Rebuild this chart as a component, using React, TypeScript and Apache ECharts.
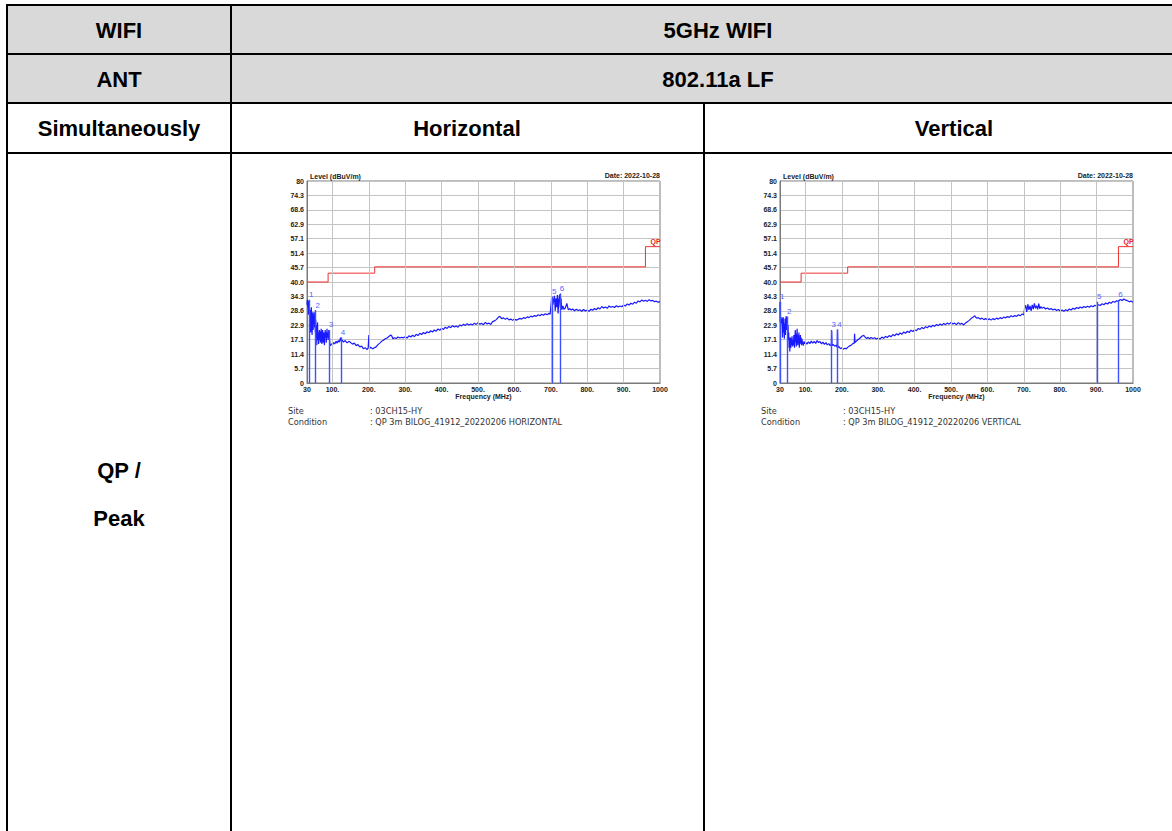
import React, { useEffect, useRef } from "react";
import * as echarts from "echarts";

// ---------- data ----------
const xTickValues = [30, 100, 200, 300, 400, 500, 600, 700, 800, 900, 1000];
const xGridValues = [100, 200, 300, 400, 500, 600, 700, 800, 900];
const yTickLabels = ["0", "5.7", "11.4", "17.1", "22.9", "28.6", "34.3", "40.0", "45.7", "51.4", "57.1", "62.9", "68.6", "74.3", "80"];

// QP limit (FCC class B, 3 m)
const qpLimit: [number, number][] = [
  [30, 40], [88, 40], [88, 43.5], [216, 43.5], [216, 46], [960, 46], [960, 54], [1000, 54],
];

const horizontalTrace: [number, number][] = [
  [30, 31], [31, 33], [32, 30], [33, 32.5], [34, 27], [35, 31], [36, 33], [37, 28], [38, 24], [39, 29],
  [40, 20], [41, 26], [42, 30], [43, 22], [44, 19], [45, 25], [46, 28], [47, 21], [48, 27], [49, 24],
  [50, 28], [51, 22], [52, 26], [53, 20], [54, 25], [55, 18], [56, 23], [57, 15], [58, 21], [59, 24],
  [60, 17], [61, 20], [62, 15.5], [63, 18], [64, 21], [65, 17], [66, 20.5], [67, 16], [68, 19], [69, 21.5],
  [70, 17], [71, 15.5], [72, 19], [73, 21], [74, 18], [75, 16], [76, 20], [77, 17], [78, 15], [79, 19],
  [80, 21], [81, 18], [82, 20], [83, 16], [84, 19], [85, 21.5], [86, 18], [87, 20], [88, 17], [89, 19.5],
  [90, 21], [91, 20], [92, 17], [93, 15], [95, 14.8], [97, 15.5], [100, 15.2], [103, 16], [106, 15.5],
  [110, 16.5], [113, 15.8], [116, 16.8], [119, 16.2], [122, 18], [124, 16.5], [127, 17], [130, 16.2],
  [135, 16.8], [140, 15.9], [145, 16.5], [150, 16], [155, 15.4], [160, 15.8], [165, 14.8], [170, 15.2],
  [175, 14.3], [180, 14.6], [185, 13.6], [190, 14], [195, 13.2], [198, 13.8], [200, 19], [202, 13.6],
  [205, 14.2], [210, 13.5], [215, 14], [220, 14.3], [225, 15.2], [230, 15.8], [235, 16.5], [240, 16.9],
  [245, 17.5], [250, 17.8], [255, 18.4], [260, 19], [263, 18.6], [266, 17.5], [270, 17.9], [275, 17.6],
  [280, 18.2], [285, 17.8], [290, 18.1], [295, 17.9],
  [300, 18.3], [305, 17.8], [310, 18.7], [315, 18.2], [320, 18.9], [325, 18.4], [330, 19.3], [335, 18.8],
  [340, 19.7], [345, 19.2], [350, 20.0], [355, 19.5], [360, 20.3], [365, 19.9], [370, 20.7], [375, 20.2],
  [380, 21.0], [385, 20.5], [390, 21.4], [395, 20.9], [400, 21.7], [405, 21.2], [410, 22.1], [415, 21.6],
  [420, 22.4], [425, 21.9], [430, 22.7], [435, 22.2], [440, 22.6], [445, 22.1], [450, 23.0], [455, 22.6],
  [460, 23.3], [465, 22.8], [470, 23.5], [475, 23.0], [480, 23.4], [485, 23.0], [490, 23.7], [495, 23.2],
  [500, 23.9], [505, 23.3], [510, 23.6], [515, 23.1], [520, 24.0], [525, 23.4], [530, 23.7], [535, 23.2],
  [540, 24.3], [545, 24.6], [550, 25.1], [555, 25.9], [560, 26.4], [565, 25.5], [570, 25.8], [575, 25.2],
  [580, 25.7], [585, 25.0], [590, 25.3], [595, 24.8], [600, 25.3], [605, 24.9], [610, 25.2], [615, 25.6],
  [620, 25.3], [625, 25.9], [630, 25.6], [635, 26.2], [640, 25.9], [645, 26.5], [650, 26.2], [655, 26.7],
  [660, 26.4], [665, 27.0], [670, 26.6], [675, 27.2], [680, 26.8], [685, 27.4], [690, 27.0], [695, 27.6],
  [698, 27.2], [700, 30], [702, 33.5], [704, 34], [706, 31], [708, 33], [710, 34.5], [712, 28.5],
  [714, 33.5], [716, 30], [718, 34.8], [720, 27.5], [722, 33], [724, 35], [726, 30], [728, 33.5],
  [730, 29], [733, 30.5], [736, 29.2], [740, 29.8], [744, 31.5], [748, 29],
  [752, 29.4], [756, 28.9], [760, 29.3], [765, 28.6], [770, 29.2], [775, 28.7], [780, 29.0], [785, 28.4],
  [790, 29.1], [795, 28.5], [800, 28.9], [805, 28.4], [810, 29.2], [815, 28.8], [820, 29.5], [825, 29.0],
  [830, 29.8], [835, 29.3], [840, 30.3], [845, 29.7], [850, 30.1], [855, 29.6], [860, 30.5], [865, 30.0],
  [870, 30.3], [875, 29.9], [880, 30.6], [885, 30.1], [890, 30.5], [895, 30.2], [900, 30.9], [905, 30.5],
  [910, 31.3], [915, 30.9], [920, 31.6], [925, 31.2], [930, 32.0], [935, 31.6], [940, 32.5], [945, 32.1],
  [950, 32.9], [955, 32.4], [960, 32.8], [965, 32.3], [970, 33.0], [975, 32.5], [980, 32.7], [985, 32.2],
  [990, 32.4], [995, 32.0], [1000, 32.2],
];

const verticalTrace: [number, number][] = [
  [30, 32], [30.5, 24], [31, 25], [32, 23.5], [33, 25], [34, 24], [35, 26], [36, 22], [37, 18], [38, 24],
  [39, 26], [40, 20], [41, 23.5], [42, 17.5], [43, 22], [44, 25.5], [45, 19], [46, 24], [47, 26.5], [48, 21],
  [49, 25], [50, 26], [51, 20], [52, 23], [53, 17], [54, 20], [55, 14], [56, 18], [57, 12.5], [58, 16],
  [59, 18], [60, 14], [61, 17.5], [62, 15], [63, 18.5], [64, 16], [65, 14.5], [66, 17], [67, 15], [68, 19],
  [69, 16], [70, 14], [71, 18], [72, 21], [73, 16], [74, 19.5], [75, 14.5], [76, 18], [77, 21.5], [78, 17],
  [79, 15], [80, 19], [81, 16], [82, 20], [83, 14], [84, 17], [85, 15.5], [86, 19], [87, 16], [88, 18],
  [89, 15], [90, 17.5], [92, 16], [94, 14.8], [96, 16.5], [98, 15.5], [100, 16.2], [104, 15.4], [108, 16.3],
  [112, 15.6], [116, 16.6], [120, 15.8], [124, 16.5], [128, 15.7], [132, 16.8], [136, 16.0], [140, 16.4],
  [144, 15.5], [148, 16.2], [152, 15.3], [156, 16.0], [160, 15.1], [164, 15.6], [168, 14.8], [171, 15.2],
  [172, 20.5], [173, 14.8], [176, 15.3], [180, 14.6], [184, 15.0], [187, 14.2], [188, 21], [189, 14],
  [192, 14.4], [196, 13.6], [200, 13.9], [204, 13.4], [208, 13.8], [212, 13.5], [216, 14.1], [220, 14.6],
  [225, 14.9], [230, 15.6], [234, 15.8], [235, 19.5], [236, 16], [240, 16.6], [245, 17.2], [250, 17.8],
  [255, 18.5], [260, 18.9], [264, 18.2], [268, 17.6], [272, 18.1], [276, 17.5], [280, 18.0], [285, 17.6],
  [290, 17.9], [295, 17.4],
  [300, 17.8], [305, 17.4], [310, 18.2], [315, 17.7], [320, 18.5], [325, 18.0], [330, 18.8], [335, 18.3],
  [340, 19.2], [345, 18.7], [350, 19.5], [355, 19.0], [360, 19.8], [365, 19.3], [370, 20.2], [375, 19.7],
  [380, 20.5], [385, 20.0], [390, 20.9], [395, 20.4], [400, 21.1], [405, 20.7], [410, 21.6], [415, 21.2],
  [420, 22.0], [425, 21.5], [430, 22.3], [435, 21.9], [440, 22.6], [445, 22.2], [450, 22.9], [455, 22.4],
  [460, 23.2], [465, 22.7], [470, 23.4], [475, 22.9], [480, 23.6], [485, 23.1], [490, 23.8], [495, 23.3],
  [500, 24.0], [505, 23.4], [510, 23.7], [515, 23.1], [520, 23.9], [525, 23.3], [530, 23.6], [535, 23.0],
  [540, 23.8], [545, 24.3], [550, 24.8], [555, 25.5], [560, 26.0], [565, 26.6], [570, 25.7], [575, 25.9],
  [580, 25.3], [585, 25.7], [590, 25.1], [595, 25.5], [600, 25.0], [605, 25.4], [610, 24.9], [615, 25.5],
  [620, 25.1], [625, 25.7], [630, 25.3], [635, 25.9], [640, 25.5], [645, 26.1], [650, 25.8], [655, 26.3],
  [660, 26.0], [665, 26.6], [670, 26.2], [675, 26.7], [680, 26.4], [685, 27.0], [690, 26.6], [695, 27.3],
  [700, 27.0], [702, 29.5], [705, 30.8], [708, 28.2], [711, 31.2], [714, 29.0], [717, 30.5], [720, 28.6],
  [723, 30.9], [726, 29.3], [729, 31.5], [732, 29.6], [735, 30.6], [738, 29.2], [741, 31.4], [744, 29.4],
  [747, 30.3], [750, 29.6], [755, 30.0], [760, 29.3], [765, 29.7], [770, 29.1], [775, 29.5], [780, 28.9],
  [785, 29.3], [790, 28.7], [795, 29.1], [800, 28.5], [805, 28.9], [810, 28.4], [815, 29.0], [820, 28.6],
  [825, 29.3], [830, 28.9], [835, 29.6], [840, 29.2], [845, 29.9], [850, 29.5], [855, 30.1], [860, 29.7],
  [865, 30.3], [870, 29.9], [875, 30.4], [880, 30.0], [885, 30.6], [890, 30.2], [895, 30.8], [900, 30.4],
  [905, 31.0], [910, 30.7], [915, 31.4], [920, 31.0], [925, 31.7], [930, 31.3], [935, 32.0], [940, 31.6],
  [945, 32.3], [950, 32.0], [955, 32.6], [960, 32.3], [965, 33.1], [970, 32.7], [975, 33.3], [980, 32.8],
  [985, 32.6], [990, 32.2], [995, 32.4], [1000, 32.0],
];

// markers: [label, frequency MHz, level]
const horizontalMarkers: [string, number, number][] = [
  ["1", 36, 32.9], ["2", 54, 28.9], ["3", 91, 21.0], ["4", 123, 18.1], ["5", 704, 34.2], ["6", 725, 35.5],
];
const verticalMarkers: [string, number, number][] = [
  ["1", 30.5, 32.2], ["2", 50, 26.3], ["3", 172, 21.0], ["4", 188, 21.3], ["5", 902, 32.2], ["6", 960, 32.9],
];

const plotTitles = { level: "Level (dBuV/m)", date: "Date: 2022-10-28", freq: "Frequency (MHz)" };
const siteText = ": 03CH15-HY";
const conditionTexts = [": QP 3m BILOG_41912_20220206 HORIZONTAL", ": QP 3m BILOG_41912_20220206 VERTICAL"];

// ---------- layout ----------
const W = 1172;
const H = 831;
const plotTop = 181;
const plotH = 202;
const plotW = 353;
const plotLefts = [307, 780];

const FONT = "'Liberation Sans', Arial, sans-serif";
const SMALL = "'DejaVu Sans', Verdana, sans-serif";
const MARK_BLUE = "#3c50ff";

function buildTable(): any[] {
  const els: any[] = [];
  els.push({ type: "rect", shape: { x: 7, y: 5, width: 1200, height: 98 }, style: { fill: "#d9d9d9" }, z: 0 });
  const ls = { stroke: "#000", lineWidth: 2 };
  [5, 54, 103, 153].forEach((y) =>
    els.push({ type: "line", shape: { x1: 6, y1: y, x2: W, y2: y }, style: ls, z: 1 })
  );
  els.push({ type: "line", shape: { x1: 7, y1: 4, x2: 7, y2: H }, style: ls, z: 1 });
  els.push({ type: "line", shape: { x1: 231, y1: 4, x2: 231, y2: H }, style: ls, z: 1 });
  els.push({ type: "line", shape: { x1: 704, y1: 103, x2: 704, y2: H }, style: ls, z: 1 });
  const cell = (text: string, x: number, y: number) =>
    els.push({
      type: "text",
      x,
      y,
      style: { text, fill: "#000", font: `bold 22px ${FONT}`, textAlign: "center", textVerticalAlign: "middle" },
      z: 2,
    });
  cell("WIFI", 119, 30);
  cell("5GHz WIFI", 718, 30);
  cell("ANT", 119, 79);
  cell("802.11a LF", 718, 79);
  cell("Simultaneously", 119, 128);
  cell("Horizontal", 467, 128);
  cell("Vertical", 954, 128);
  cell("QP /", 119, 470);
  cell("Peak", 119, 518);

  plotLefts.forEach((left, i) => {
    const t = (text: string, x: number, y: number, align: string, font: string, fill = "#222") =>
      els.push({ type: "text", x, y, style: { text, fill, font, textAlign: align, textVerticalAlign: "middle" }, z: 5 });
    t(plotTitles.level, left + 3, plotTop - 5, "left", `bold 7px ${FONT}`);
    t(plotTitles.date, left + plotW, plotTop - 6, "right", `bold 7px ${FONT}`);
    t(plotTitles.freq, left + plotW / 2, plotTop + plotH + 13, "center", `bold 7px ${FONT}`);
    t("Site", left - 19, plotTop + plotH + 28, "left", `8.2px ${SMALL}`, "#333");
    t("Condition", left - 19, plotTop + plotH + 39, "left", `8.2px ${SMALL}`, "#333");
    t(siteText, left + 63, plotTop + plotH + 28, "left", `8.2px ${SMALL}`, "#333");
    t(conditionTexts[i], left + 63, plotTop + plotH + 39, "left", `8.2px ${SMALL}`, "#333");
  });
  return els;
}

function buildOption(): any {
  const grids = plotLefts.map((left) => ({
    left,
    top: plotTop,
    width: plotW,
    height: plotH,
    show: true,
    borderColor: "#7a7a7a",
    borderWidth: 1,
    containLabel: false,
  }));
  const xAxes = plotLefts.map((_, i) => ({
    type: "value",
    gridIndex: i,
    min: 30,
    max: 1000,
    splitLine: { show: false },
    axisLine: { show: true, lineStyle: { color: "#7a7a7a", width: 1 } },
    axisTick: { show: false, customValues: xTickValues },
    axisLabel: {
      customValues: xTickValues,
      formatter: (v: number) => (v === 30 || v === 1000 ? String(v) : v + "."),
      fontSize: 7,
      fontWeight: "bold",
      fontFamily: FONT,
      color: "#222",
      margin: 3,
    },
  }));
  const yAxes = plotLefts.map((_, i) => ({
    type: "value",
    gridIndex: i,
    min: 0,
    max: 80,
    interval: 80 / 14,
    splitLine: { show: true, lineStyle: { color: "#c4c4c4", width: 1 } },
    axisLine: { show: true, lineStyle: { color: "#7a7a7a" } },
    axisTick: { show: false },
    axisLabel: {
      formatter: (v: number) => {
        const idx = Math.round((v * 14) / 80);
        return yTickLabels[idx] ?? "";
      },
      fontSize: 7,
      fontWeight: "bold",
      fontFamily: FONT,
      color: "#222",
      margin: 3,
    },
  }));

  const series: any[] = [];
  const traces = [horizontalTrace, verticalTrace];
  const markers = [horizontalMarkers, verticalMarkers];
  plotLefts.forEach((_, i) => {
    series.push({
      type: "line",
      xAxisIndex: i,
      yAxisIndex: i,
      data: [[30, 0]],
      symbol: "none",
      lineStyle: { width: 0 },
      silent: true,
      z: 1,
      markLine: {
        silent: true,
        symbol: ["none", "none"],
        label: { show: false },
        lineStyle: { color: "#c4c4c4", width: 1, type: "solid" },
        data: xGridValues.map((v) => ({ xAxis: v })),
      },
    });
    series.push({
      type: "line",
      name: "QP",
      xAxisIndex: i,
      yAxisIndex: i,
      data: qpLimit,
      symbol: "none",
      lineStyle: { color: "#ee3030", width: 1 },
      z: 3,
      markPoint: {
        symbol: "circle",
        symbolSize: 0,
        data: [{ coord: [988, 54] }],
        label: {
          show: true,
          formatter: "QP",
          color: "#ee2020",
          fontSize: 7,
          fontWeight: "bold",
          fontFamily: FONT,
          position: "top",
          distance: 2,
        },
      },
    });
    series.push({
      type: "line",
      xAxisIndex: i,
      yAxisIndex: i,
      data: traces[i],
      symbol: "none",
      color: "#1a1aff",
      lineStyle: { color: "#1a1aff", width: 1.2 },
      z: 4,
      markLine: {
        silent: true,
        symbol: ["none", "none"],
        lineStyle: { color: MARK_BLUE, width: 1.4, type: "solid", opacity: 1 },
        label: {
          show: true,
          position: "end",
          formatter: "{b}",
          color: "#5566ff",
          fontSize: 8,
          fontFamily: FONT,
          distance: 1,
          offset: [2, 0],
        },
        data: markers[i].map(([n, f, v]) => [
          { name: n, coord: [f, 0], lineStyle: { color: MARK_BLUE, width: 1.4, type: "solid" } },
          { coord: [f, v], lineStyle: { color: MARK_BLUE, width: 1.4, type: "solid" } },
        ]),
      },
    });
  });

  return {
    animation: false,
    backgroundColor: "#ffffff",
    grid: grids,
    xAxis: xAxes,
    yAxis: yAxes,
    series,
    graphic: buildTable(),
  };
}

export default function App() {
  const ref = useRef<HTMLDivElement>(null);
  useEffect(() => {
    if (!ref.current) return;
    const chart = echarts.init(ref.current, undefined, { renderer: "svg" });
    chart.setOption(buildOption());
    return () => chart.dispose();
  }, []);
  return (
    <div
      ref={ref}
      style={{ position: "absolute", left: 0, top: 0, width: W, height: H, background: "#fff" }}
    />
  );
}
